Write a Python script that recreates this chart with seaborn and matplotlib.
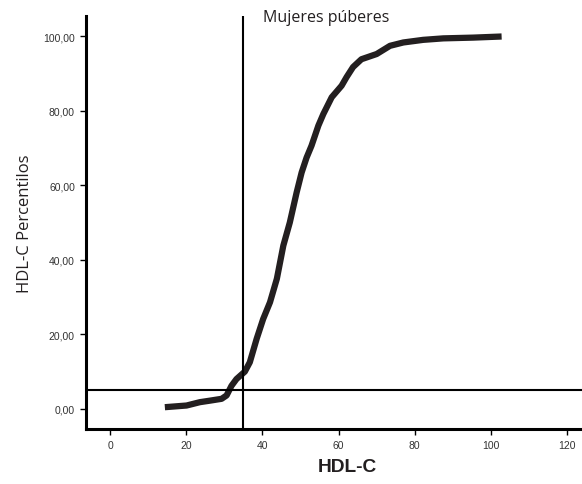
import matplotlib
matplotlib.use("Agg")
import matplotlib.pyplot as plt
import seaborn as sns
import pandas as pd

# Data
hdl = [14.4, 20.1, 23.6, 26.2, 29.3, 30.6, 31.9, 33.2, 35.4, 36.7, 38.5, 40.2, 42.0,
       43.8, 45.5, 47.2, 49.0, 50.3, 51.6, 52.9, 54.7, 56.0, 58.2, 60.8, 62.1, 63.8,
       66.0, 70.0, 73.5, 77.0, 82.2, 87.5, 95.3, 102.8]
pct = [0.45, 0.9, 1.8, 2.2, 2.7, 3.6, 6.2, 8.0, 10.0, 12.5, 18.8, 24.1, 28.6,
       34.9, 43.8, 50.0, 58.1, 63.4, 67.4, 70.6, 76.0, 79.1, 83.6, 86.7, 89.0, 91.7,
       93.8, 95.2, 97.4, 98.3, 99.0, 99.4, 99.6, 99.9]
x_ticks = [0, 20, 40, 60, 80, 100, 120]
y_ticks = [0, 20, 40, 60, 80, 100]
y_tick_labels = ["0,00", "20,00", "40,00", "60,00", "80,00", "100,00"]
cut_x = 35
cut_y = 5
title = "Mujeres púberes"

df = pd.DataFrame({"HDL-C": hdl, "Percentil": pct})

sns.set_theme(style="ticks")
plt.rcParams["font.family"] = ["Liberation Sans", "DejaVu Sans"]

fig = plt.figure(figsize=(5.82, 4.85), dpi=100)
ax = fig.add_axes([86 / 582, 1 - 430 / 485, 1 - 86 / 582, (430 - 17) / 485])

sns.lineplot(data=df, x="HDL-C", y="Percentil", ax=ax, color="#231f20",
             linewidth=4.5, sort=False, solid_capstyle="butt")
ax.axvline(cut_x, color="black", linewidth=1.5)
ax.axhline(cut_y, color="black", linewidth=1.5)

ax.set_xlim(-6.3, 123.9)
ax.set_ylim(-5.4, 105.4)
ax.set_xticks(x_ticks)
ax.set_xticklabels([str(t) for t in x_ticks])
ax.set_yticks(y_ticks)
ax.set_yticklabels(y_tick_labels)
ax.tick_params(axis="both", labelsize=7.5, labelcolor="#333333", length=4,
               width=1, color="black", direction="out", pad=4)

for s in ["top", "right"]:
    ax.spines[s].set_visible(False)
for s in ["left", "bottom"]:
    ax.spines[s].set_linewidth(2.2)
    ax.spines[s].set_color("black")

ax.set_xlabel("")
ax.set_ylabel("")
fig.text(347 / 582, 1 - 468 / 485, "HDL-C", fontsize=13.8, fontweight="bold",
         ha="center", va="center", color="#231f20")
fig.text(25 / 582, 1 - 224 / 485, "HDL-C Percentilos", fontsize=12, rotation=90,
         ha="center", va="center", color="#231f20", family=["Open Sans", "DejaVu Sans"])
fig.text(263 / 582, 1 - 18 / 485, title, fontsize=11.5, ha="left", va="center",
         color="#231f20", family=["Open Sans", "DejaVu Sans"])

fig.savefig("out.png", dpi=100)
